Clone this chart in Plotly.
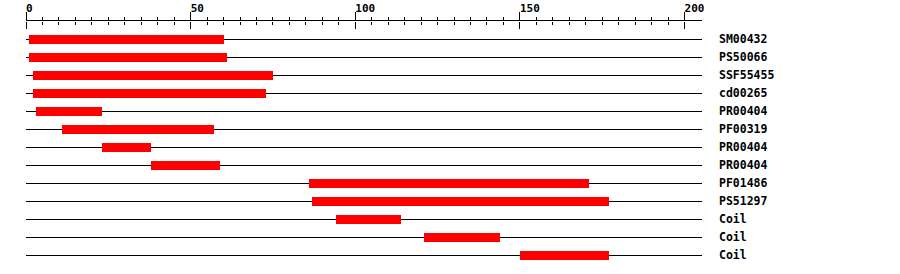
import plotly.graph_objects as go

labels = ["SM00432", "PS50066", "SSF55455", "cd00265", "PR00404", "PF00319",
          "PR00404", "PR00404", "PF01486", "PS51297", "Coil", "Coil", "Coil"]
starts = [1, 1, 2, 2, 3, 11, 23, 38, 86, 87, 94, 121, 150]
ends = [60, 61, 75, 73, 23, 57, 38, 59, 171, 177, 114, 144, 177]
rows = list(range(len(labels)))
major_ticks = [0, 50, 100, 150, 200]
minor_ticks = [v for v in range(0, 200, 5) if v % 50 != 0]
x_max = 205.3

FONT = "DejaVu Sans Mono"
NB = "\u00a0"
W, H, T = 900, 274, 21

fig = go.Figure()
fig.add_trace(go.Bar(
    y=rows, x=[e - s for s, e in zip(starts, ends)], base=starts,
    orientation="h", width=0.5,
    marker=dict(color="#ff0000", line=dict(width=0)),
    hoverinfo="skip", showlegend=False,
))
fig.add_trace(go.Scatter(
    x=[0], y=[0], xaxis="x2", mode="markers",
    marker=dict(opacity=0), hoverinfo="skip", showlegend=False,
))

fig.update_layout(
    width=W, height=H,
    margin=dict(l=26, r=198, t=T, b=10, autoexpand=False),
    paper_bgcolor="white", plot_bgcolor="white",
    bargap=0,
    xaxis=dict(
        range=[0, x_max], side="top", showline=True, linecolor="black", linewidth=1,
        ticks="outside", ticklen=8, tickwidth=1, tickcolor="black",
        tickmode="array", tickvals=major_ticks,
        ticktext=[NB * len(str(v)) + str(v) for v in major_ticks],
        ticklabelstandoff=-4,
        tickfont=dict(family=FONT, size=11, color="black", weight="bold"),
        minor=dict(ticks="outside", ticklen=3, tickwidth=1, tickcolor="black",
                   tickmode="array", tickvals=minor_ticks, showgrid=False),
        showgrid=False, zeroline=False, fixedrange=True, automargin=False,
    ),
    xaxis2=dict(
        overlaying="x", side="bottom", anchor="free", position=1.0,
        range=[0, x_max],
        showline=False, ticks="outside", ticklen=7, tickwidth=1, tickcolor="black",
        tickmode="array", tickvals=major_ticks, showticklabels=False,
        minor=dict(ticks="outside", ticklen=3, tickwidth=1, tickcolor="black",
                   tickmode="array", tickvals=minor_ticks, showgrid=False),
        showgrid=False, zeroline=False, fixedrange=True, automargin=False,
    ),
    yaxis=dict(
        range=[12.5, -1], side="right", tickmode="array", tickvals=rows, ticktext=labels,
        ticks="", showgrid=True, gridcolor="black", gridwidth=1,
        zeroline=False, showline=False, ticklabelstandoff=16,
        tickfont=dict(family=FONT, size=11.5, color="black", weight="bold"),
        fixedrange=True, automargin=False,
    ),
)

fig.write_html("out.html")
